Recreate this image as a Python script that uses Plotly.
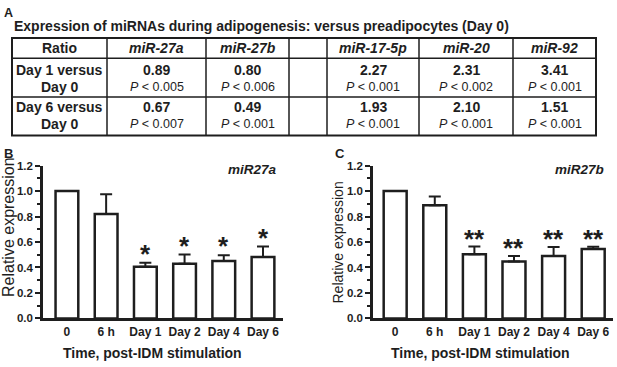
import plotly.graph_objects as go

# ---------------- data ----------------
table_title = "Expression of miRNAs during adipogenesis: versus preadipocytes (Day 0)"
header_first = "Ratio"
mirnas = ["miR-27a", "miR-27b", "", "miR-17-5p", "miR-20", "miR-92"]
row_label_top = ["Day 1 versus", "Day 6 versus"]
row_label_bottom = ["Day 0", "Day 0"]
day1_ratio = ["0.89", "0.80", "", "2.27", "2.31", "3.41"]
day1_p = ["0.005", "0.006", "", "0.001", "0.002", "0.001"]
day6_ratio = ["0.67", "0.49", "", "1.93", "2.10", "1.51"]
day6_p = ["0.007", "0.001", "", "0.001", "0.001", "0.001"]

timepoints = ["0", "6 h", "Day 1", "Day 2", "Day 4", "Day 6"]
mir27a_mean = [1.00, 0.82, 0.405, 0.43, 0.45, 0.482]
mir27a_err = [0.0, 0.155, 0.033, 0.072, 0.046, 0.082]
mir27a_sig = ["", "", "*", "*", "*", "*"]
mir27b_mean = [1.00, 0.888, 0.503, 0.448, 0.49, 0.545]
mir27b_err = [0.0, 0.07, 0.061, 0.043, 0.071, 0.018]
mir27b_sig = ["", "", "**", "**", "**", "**"]

# ---------------- helpers ----------------
W, H = 617, 367
FONT = "Liberation Sans, Arial, Helvetica, sans-serif"
INK = "#1e1e1e"


def X(px):
    return px / W


def Y(py):
    return 1 - py / H


fig = go.Figure()


def label(text, x, y, size, bold=True, italic=False, angle=0, xanchor="center"):
    t = text
    if italic:
        t = "<i>%s</i>" % t
    if bold:
        t = "<b>%s</b>" % t
    fig.add_annotation(x=X(x), y=Y(y), xref="paper", yref="paper", text=t,
                       showarrow=False, textangle=angle, xanchor=xanchor,
                       yanchor="middle", font=dict(family=FONT, size=size, color=INK))


# ---------------- table (panel A) ----------------
col_edges = [12, 107, 206, 289, 327, 419, 513, 596]
row_edges = [33, 54, 94, 134]
line_offsets = [(12.5, 29.5), (10.5, 28.0)]   # first / second text line inside body rows

for xe in col_edges[1:-1]:
    fig.add_shape(type="line", xref="paper", yref="paper", x0=X(xe), x1=X(xe),
                  y0=Y(row_edges[0]), y1=Y(row_edges[-1]), line=dict(color=INK, width=1.5))
for ye in row_edges[1:-1]:
    fig.add_shape(type="line", xref="paper", yref="paper", x0=X(col_edges[0]),
                  x1=X(col_edges[-1]), y0=Y(ye), y1=Y(ye), line=dict(color=INK, width=1.5))
fig.add_shape(type="rect", xref="paper", yref="paper", x0=X(col_edges[0]), x1=X(col_edges[-1]),
              y0=Y(row_edges[-1]), y1=Y(row_edges[0]), line=dict(color=INK, width=2))

centers = [(a + b) / 2 for a, b in zip(col_edges[:-1], col_edges[1:])]
head_y = (row_edges[0] + row_edges[1]) / 2
label(header_first, centers[0], head_y, 14)
for c, m in zip(centers[1:], mirnas):
    if m:
        label(m, c, head_y, 14, italic=True)

body = [(day1_ratio, day1_p), (day6_ratio, day6_p)]
for r, (ratios, pvals) in enumerate(body):
    top = row_edges[r + 1]
    y1, y2 = top + line_offsets[r][0], top + line_offsets[r][1]
    label(row_label_top[r], centers[0], y1, 14)
    label(row_label_bottom[r], centers[0], y2, 14)
    for c, v, p in zip(centers[1:], ratios, pvals):
        if v:
            label(v, c, y1, 14)
            label("<i>P</i> &lt; %s" % p, c, y2, 12.5, bold=False)

# ---------------- bar panels ----------------
for mean, err, sig, xa, ya, shift in [
        (mir27a_mean, mir27a_err, mir27a_sig, "x", "y", -8),
        (mir27b_mean, mir27b_err, mir27b_sig, "x2", "y2", -9.5)]:
    fig.add_trace(go.Bar(
        x=timepoints, y=mean, xaxis=xa, yaxis=ya, width=0.58,
        marker=dict(color="white", line=dict(color=INK, width=2.5)),
        error_y=dict(type="data", symmetric=False, array=err,
                     arrayminus=[0] * len(err), color=INK, thickness=2, width=6),
        hoverinfo="skip",
    ))
    for t, m, e, s in zip(timepoints, mean, err, sig):
        if s:
            fig.add_annotation(x=t, y=m + e, xref=xa, yref=ya, text="<b>%s</b>" % s,
                               showarrow=False, yanchor="bottom", yshift=shift,
                               font=dict(family=FONT, size=26, color=INK))

axis_common = dict(showline=True, linewidth=2.5, linecolor=INK, showgrid=False,
                   zeroline=False, fixedrange=True)
xcommon = dict(axis_common, type="category", ticks="",
               tickfont=dict(family=FONT, size=12, color=INK, weight="bold"))
ycommon = dict(axis_common, range=[0, 1.2], dtick=0.2, tickformat=".1f",
               ticks="outside", ticklen=5, tickwidth=2, tickcolor=INK,
               tickfont=dict(family=FONT, size=11.5, color=INK, weight="bold"),
               minor=dict(dtick=0.1, ticks="outside", ticklen=3, tickwidth=1.5,
                          tickcolor=INK))

fig.update_layout(
    width=W, height=H, margin=dict(l=0, r=0, t=0, b=0),
    paper_bgcolor="white", plot_bgcolor="white", showlegend=False,
    xaxis=dict(xcommon, domain=[X(43), X(283)], range=[-0.61, 5.51], anchor="y"),
    yaxis=dict(ycommon, domain=[Y(323), Y(165)], anchor="x"),
    xaxis2=dict(xcommon, domain=[X(373), X(613)], range=[-0.56, 5.5], anchor="y2"),
    yaxis2=dict(ycommon, domain=[Y(323), Y(165)], anchor="x2"),
)

label("A", 2, 7, 12.5, xanchor="left")
label(table_title, 12, 21, 14, xanchor="left")
label("B", 2, 152, 13, xanchor="left")
label("C", 333, 152, 13, xanchor="left")
label("miR27a", 252.5, 169, 13.5, italic=True)
label("miR27b", 579, 169, 13.5, italic=True)
label("Relative expression", 8.5, 229, 16, bold=False, angle=-90)
label("Relative expression", 337.5, 245, 14, bold=False, angle=-90)
label("Time, post-IDM stimulation", 152.5, 359, 14)
label("Time, post-IDM stimulation", 481, 359, 14)

fig.write_html("out.html", config={"displayModeBar": False},
               post_script="document.body.style.margin='0';"
                           "document.documentElement.style.overflow='hidden';")
